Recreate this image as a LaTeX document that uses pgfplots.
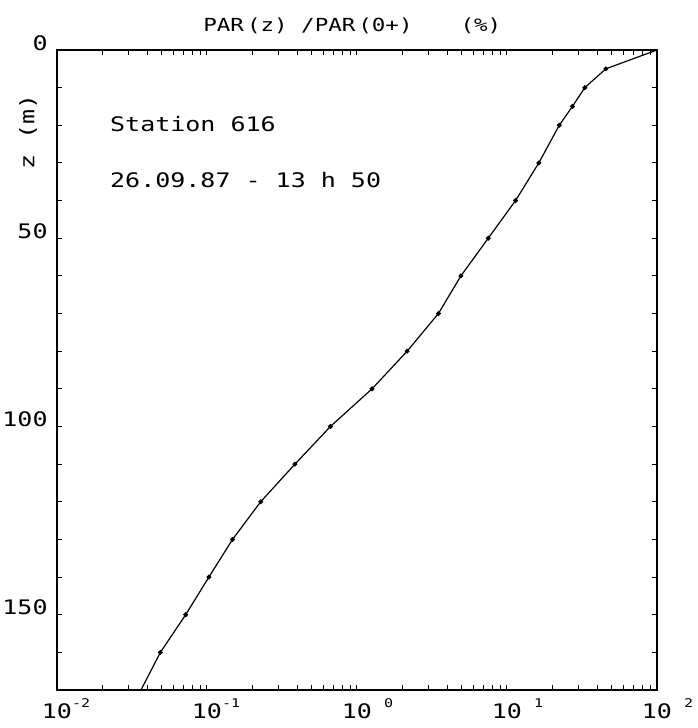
\documentclass[border=0pt]{standalone}
\usepackage{fontspec}
\setmainfont{DejaVu Sans Mono}[FakeStretch=1.25]
\usepackage{pgfplots}
\pgfplotsset{compat=1.18}
\newcommand{\pexp}[1]{\rlap{\raisebox{1.0ex}{\fontsize{6pt}{7pt}\selectfont #1}}}
\begin{document}
\fontsize{10pt}{12pt}\selectfont
\begin{tikzpicture}
\begin{axis}[name=ax,
  scale only axis, width=300pt, height=320pt,
  xmode=log, xmin=0.01, xmax=100,
  ymin=0, ymax=170, y dir=reverse,
  clip=false,
  xtick={0.01,0.1,1,10,100},
  xticklabels={10\pexp{-2},10\pexp{-1},10\pexp{\hspace{6pt}0},10\pexp{\hspace{6pt}1},10\pexp{\hspace{6pt}2}},
  minor xtick={0.02,0.03,0.04,0.05,0.06,0.07,0.08,0.09,0.2,0.3,0.4,0.5,0.6,0.7,0.8,0.9,2,3,4,5,6,7,8,9,20,30,40,50,60,70,80,90},
  ytick={0,50,100,150},
  yticklabels={0,50,100,150},
  minor ytick={10,20,30,40,60,70,80,90,110,120,130,140,160,170},
  tick align=inside, major tick length=2.5pt, minor tick length=2.5pt,
  tick style={black, line width=0.5pt},
  axis line style={black, line width=0.6pt},
  yticklabel style={anchor=base east, inner sep=0pt, xshift=-4.5pt},
  xticklabel style={anchor=base, inner sep=0pt, yshift=-14pt},
  ylabel={z (m)},
  ylabel style={at={(axis description cs:-0.048,0.872)}, anchor=center, inner sep=0pt},
]
\addplot[black, line width=0.6pt, mark=*, mark size=0.9pt, mark indices={2,...,19}] coordinates {
(100,0) (45.6,5) (33.0,10) (27.3,15) (22.3,20) (16.3,30) (11.4,40) (7.5,50)
(4.93,60) (3.49,70) (2.16,80) (1.26,90) (0.665,100) (0.386,110) (0.228,120)
(0.148,130) (0.103,140) (0.0721,150) (0.0489,160) (0.0363,170)
};
\node[anchor=west, inner sep=0pt] at (axis description cs:0.088,0.884) {Station 616};
\node[anchor=west, inner sep=0pt] at (axis description cs:0.088,0.797) {26.09.87 - 13 h 50};
\end{axis}
\node[anchor=base west, inner sep=0pt, font=\fontsize{9pt}{11pt}\selectfont] at ([xshift=73pt, yshift=9pt]ax.north west) {PAR\,(z) /PAR\,(0+)\hspace{24pt}(\%)};
\pgfresetboundingbox
\useasboundingbox ([xshift=-28.5pt,yshift=-19pt]ax.south west) rectangle ([xshift=20.5pt,yshift=25pt]ax.north east);
\end{tikzpicture}
\end{document}
